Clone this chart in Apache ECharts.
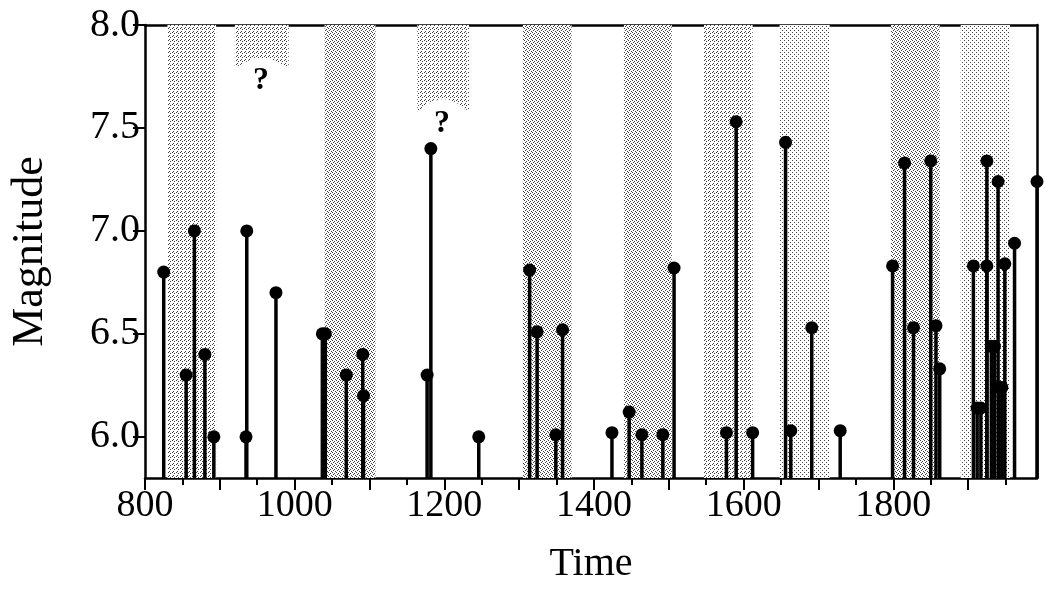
<!DOCTYPE html>
<html><head><meta charset="utf-8">
<script src="https://cdn.jsdelivr.net/npm/echarts@6/dist/echarts.min.js"></script>
<style>html,body{margin:0;padding:0;background:#fff}#c{width:1045px;height:596px}</style>
</head><body><div id="c"></div>
<script>
// ---- data ----
const years = [825, 855, 866, 880, 892, 935, 936, 975, 1037, 1041, 1069, 1091, 1092, 1177, 1182,
  1246, 1314, 1324, 1349, 1358, 1424, 1447, 1464, 1492, 1507, 1577, 1590, 1612, 1656, 1663,
  1691, 1729, 1799, 1815, 1827, 1850, 1857, 1862, 1907, 1912, 1917, 1925, 1925, 1931, 1935,
  1940, 1941, 1945, 1949, 1962, 1992];
const magnitudes = [6.80, 6.30, 7.00, 6.40, 6.00, 6.00, 7.00, 6.70, 6.50, 6.50, 6.30, 6.40, 6.20, 6.30, 7.40,
  6.00, 6.81, 6.51, 6.01, 6.52, 6.02, 6.12, 6.01, 6.01, 6.82, 6.02, 7.53, 6.02, 7.43, 6.03,
  6.53, 6.03, 6.83, 7.33, 6.53, 7.34, 6.54, 6.33, 6.83, 6.14, 6.14, 7.34, 6.83, 6.44, 6.44,
  7.24, 6.24, 6.24, 6.84, 6.94, 7.24];
const bandStart = [830, 920, 1040, 1164, 1305, 1440, 1547, 1648, 1797, 1890];
const bandEnd   = [895, 992, 1108, 1233, 1370, 1504, 1612, 1715, 1862, 1956];
const bandBottomEdge   = [5.8, 7.79, 5.8, 7.58, 5.8, 5.8, 5.8, 5.8, 5.8, 5.8];
const bandBottomMiddle = [5.8, 7.84, 5.8, 7.64, 5.8, 5.8, 5.8, 5.8, 5.8, 5.8];
const queryYears = [955, 1197];
const queryMagnitudes = [7.73, 7.52];
const xTickValues = [800, 900, 1000, 1100, 1200, 1300, 1400, 1500, 1600, 1700, 1800, 1900];
const xMinorTickValues = [850, 950, 1050, 1150, 1250, 1350, 1450, 1550, 1650, 1750, 1850, 1950];
const xLabelValues = [800, 1000, 1200, 1400, 1600, 1800];
const yTickValues = [6.0, 6.5, 7.0, 7.5, 8.0];

// ---- styling ----
const bandShade = [1, 1, 2, 1, 2, 2, 1, 0, 2, 0];
function makePattern(points) {
  const c = document.createElement('canvas');
  c.width = 4; c.height = 4;
  const ctx = c.getContext('2d');
  ctx.fillStyle = '#fff'; ctx.fillRect(0, 0, 4, 4);
  ctx.fillStyle = '#404040';
  points.forEach(p => ctx.fillRect(p[0], p[1], 1, 1));
  return { image: c, repeat: 'repeat' };
}
const patterns = [
  makePattern([[0, 0], [2, 2]]),
  makePattern([[0, 0], [2, 1], [1, 3]]),
  makePattern([[0, 0], [2, 1], [1, 2], [3, 3]])
];
const FONT = 'Liberation Serif';
const Y_MIN = 5.8, Y_MAX = 8.0;

const chart = echarts.init(document.getElementById('c'), null, { renderer: 'canvas' });
const axisLine = { show: true, lineStyle: { color: '#000', width: 2.5 } };

chart.setOption({
  animation: false,
  backgroundColor: '#fff',
  grid: { left: 144, right: 8, top: 25, bottom: 118 },
  xAxis: [
    {
      type: 'value', min: 800, max: 1992, position: 'bottom',
      axisLine: axisLine,
      axisTick: { show: true, customValues: xTickValues, length: 12, lineStyle: { color: '#000', width: 2 } },
      axisLabel: { show: true, customValues: xLabelValues, formatter: v => String(v),
        fontSize: 38, fontFamily: FONT, color: '#000', margin: 9 },
      splitLine: { show: false },
      name: 'Time', nameLocation: 'middle', nameGap: 66,
      nameTextStyle: { fontSize: 40, fontFamily: FONT, color: '#000' }
    },
    {
      type: 'value', min: 800, max: 1992, position: 'bottom',
      axisLine: { show: false },
      axisTick: { show: true, customValues: xMinorTickValues, length: 7, lineStyle: { color: '#000', width: 2 } },
      axisLabel: { show: false },
      splitLine: { show: false }
    },
    {
      type: 'value', min: 800, max: 1992, position: 'top',
      axisLine: axisLine, axisTick: { show: false }, axisLabel: { show: false }, splitLine: { show: false }
    }
  ],
  yAxis: [
    {
      type: 'value', min: Y_MIN, max: Y_MAX, position: 'left',
      axisLine: axisLine,
      axisTick: { show: true, customValues: yTickValues, length: 12, lineStyle: { color: '#000', width: 2 } },
      axisLabel: { show: true, customValues: yTickValues, formatter: v => v.toFixed(1),
        fontSize: 40, fontFamily: FONT, color: '#000', margin: 5 },
      splitLine: { show: false },
      name: 'Magnitude', nameLocation: 'middle', nameGap: 93, nameRotate: 90,
      nameTextStyle: { fontSize: 44, fontFamily: FONT, color: '#000' }
    },
    {
      type: 'value', min: Y_MIN, max: Y_MAX, position: 'right',
      axisLine: axisLine, axisTick: { show: false }, axisLabel: { show: false }, splitLine: { show: false }
    }
  ],
  series: [
    {
      type: 'custom', xAxisIndex: 0, yAxisIndex: 0, z: 1,
      data: bandStart.map((s, i) => [s, bandEnd[i], bandBottomEdge[i], bandBottomMiddle[i]]),
      renderItem: function (params, api) {
        const s = api.value(0), e = api.value(1), be = api.value(2), bm = api.value(3);
        const pts = [api.coord([s, Y_MAX]), api.coord([e, Y_MAX])];
        const N = 30;
        for (let k = 0; k <= N; k++) {
          const t = k / N;
          pts.push(api.coord([e - t * (e - s), be + (bm - be) * Math.sin(Math.PI * t)]));
        }
        return { type: 'polygon', shape: { points: pts }, style: { fill: patterns[bandShade[params.dataIndex]] } };
      }
    },
    {
      type: 'custom', xAxisIndex: 0, yAxisIndex: 0, z: 3, clip: false,
      data: years.map((y, i) => [y, magnitudes[i]]),
      renderItem: function (params, api) {
        const x = api.value(0), m = api.value(1);
        const p0 = api.coord([x, Y_MIN]), p1 = api.coord([x, m]);
        return {
          type: 'group', children: [
            { type: 'line', shape: { x1: p0[0], y1: p0[1], x2: p1[0], y2: p1[1] }, style: { stroke: '#000', lineWidth: 3.5 } },
            { type: 'circle', shape: { cx: p1[0], cy: p1[1], r: 6.5 }, style: { fill: '#000' } }
          ]
        };
      }
    },
    {
      type: 'custom', xAxisIndex: 0, yAxisIndex: 0, z: 4,
      data: queryYears.map((y, i) => [y, queryMagnitudes[i]]),
      renderItem: function (params, api) {
        const p = api.coord([api.value(0), api.value(1)]);
        return {
          type: 'text', x: p[0], y: p[1],
          style: { text: '?', fill: '#000', font: 'bold 32px "Liberation Serif"', align: 'center', verticalAlign: 'middle' }
        };
      }
    }
  ]
});
</script>
</body></html>
